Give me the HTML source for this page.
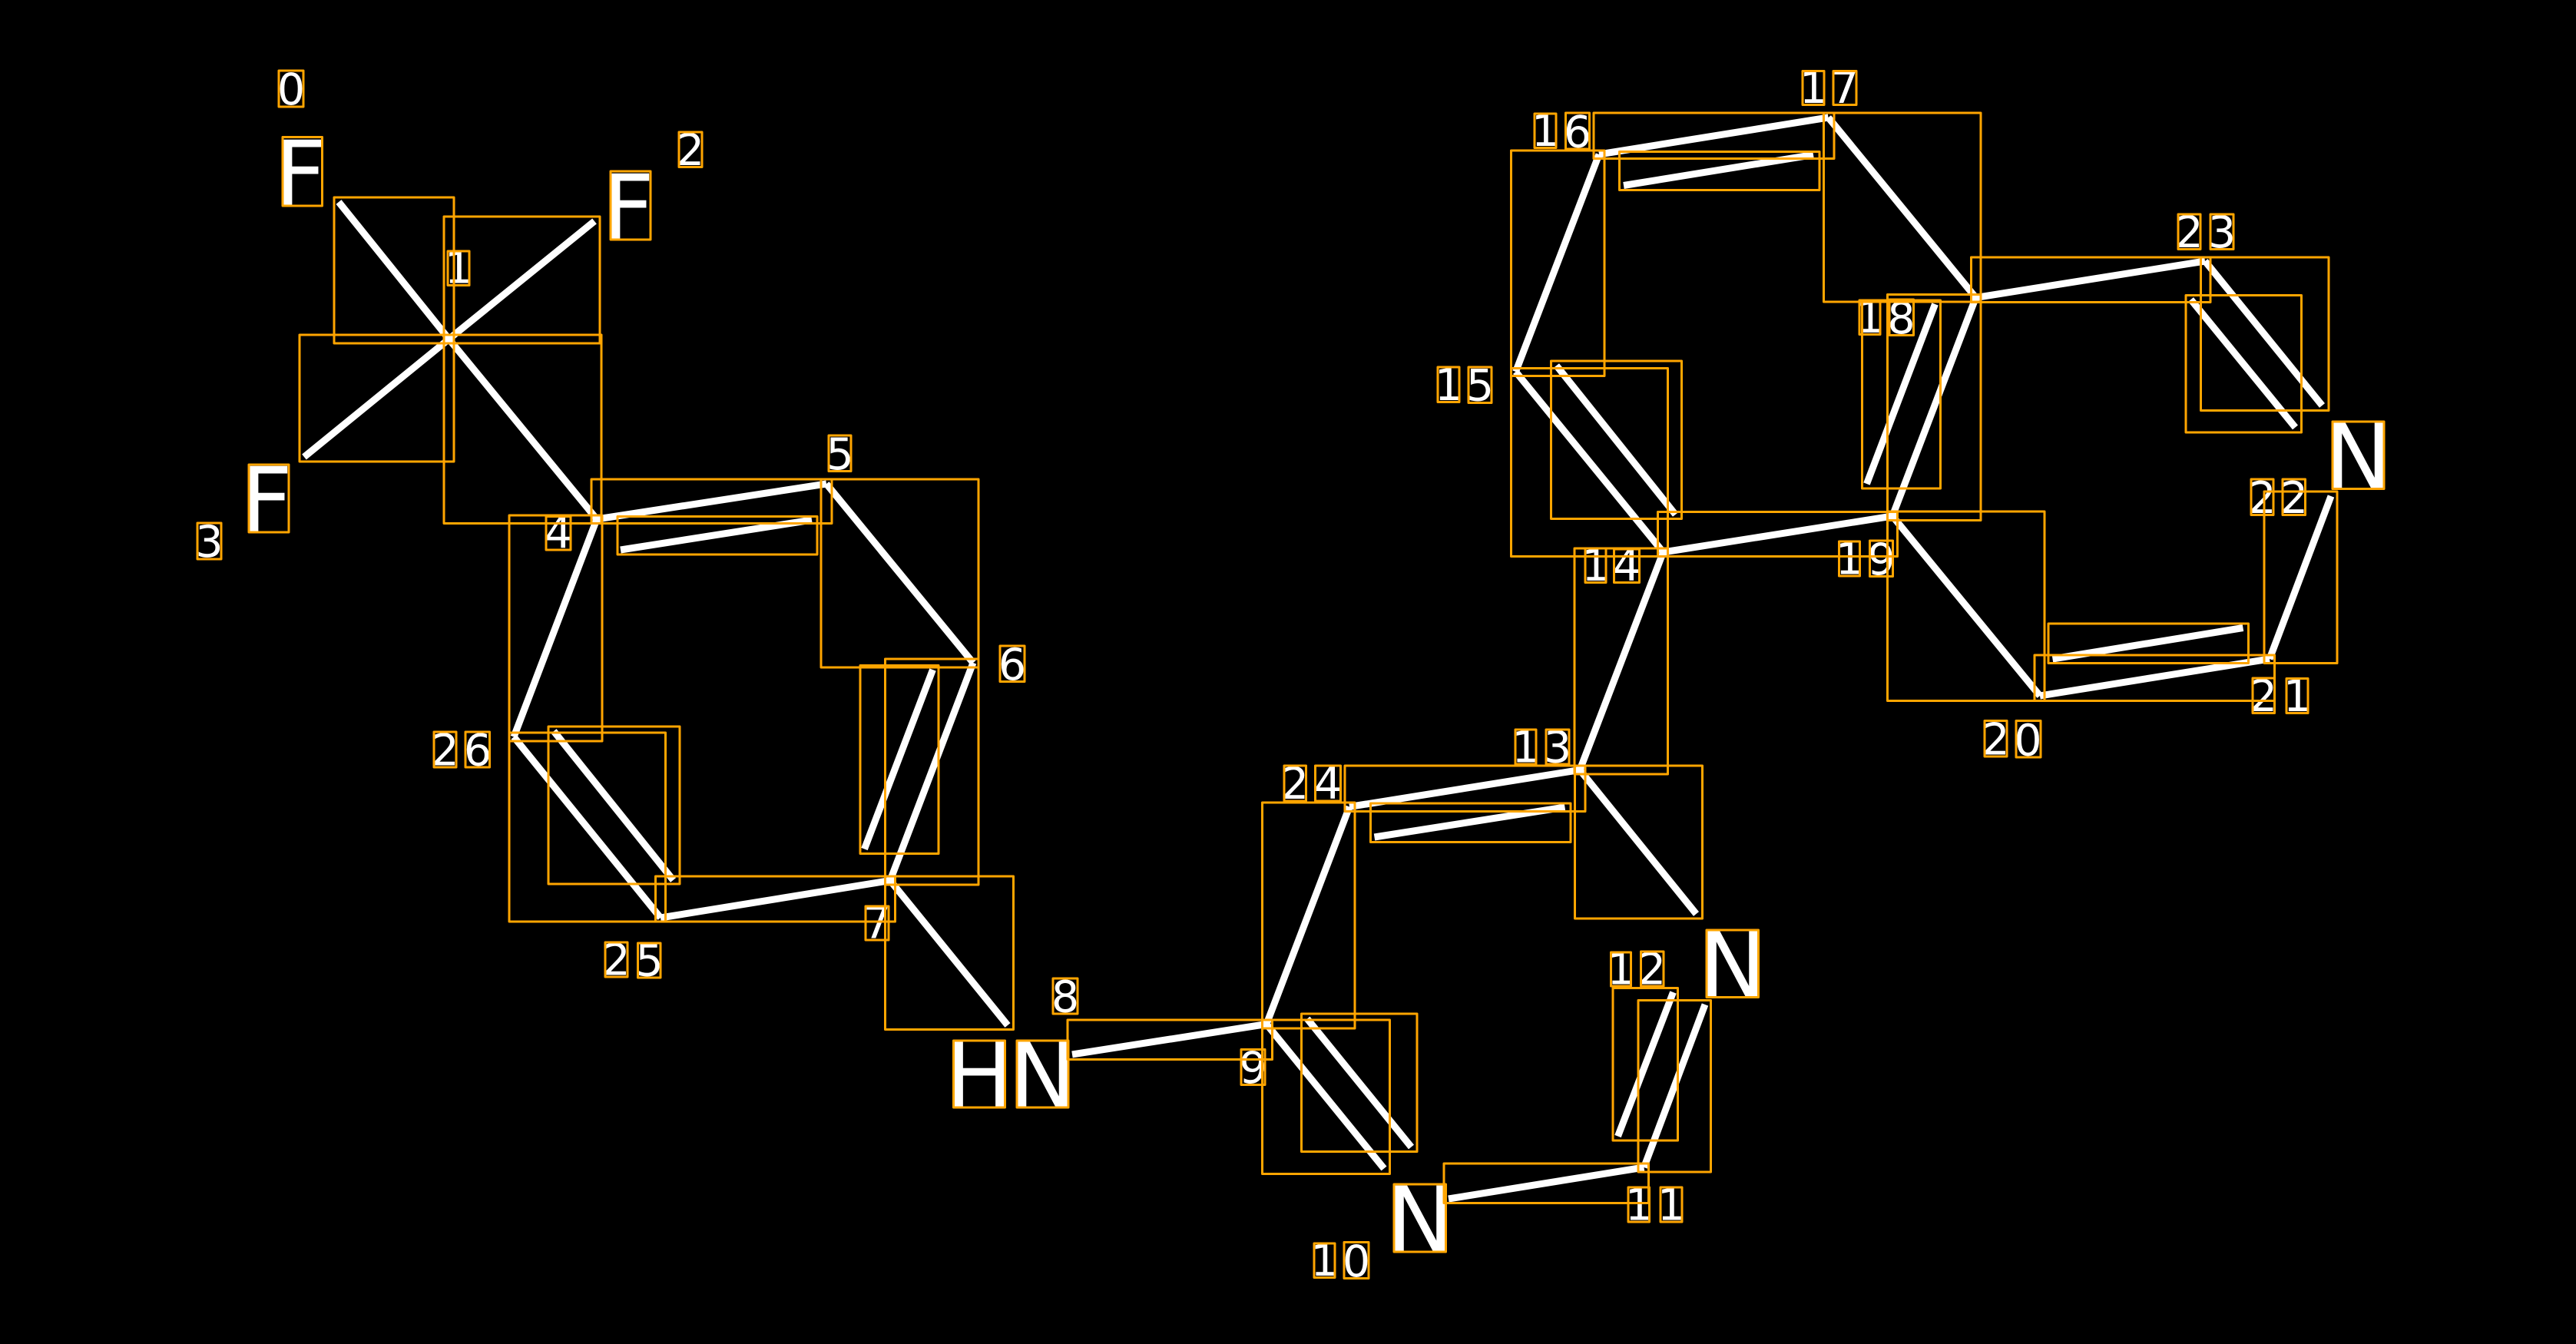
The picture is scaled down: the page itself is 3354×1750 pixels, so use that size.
<!DOCTYPE html>
<html>
<head>
<meta charset="utf-8">
<style>
html,body{margin:0;padding:0;background:#000;width:3354px;height:1750px;overflow:hidden}
svg{display:block}
.b{stroke:#fff;stroke-width:9;fill:none}
.r{stroke:#FFA500;stroke-width:3;fill:none;stroke-linejoin:round}
text{fill:#fff;font-family:"DejaVu Sans","Liberation Sans",sans-serif;text-anchor:middle}
.d text{font-size:57px}
.a text{font-size:118px}
</style>
</head>
<body>
<svg width="3354" height="1750" viewBox="0 0 3354 1750" xmlns="http://www.w3.org/2000/svg">
<rect width="3354" height="1750" fill="#000"/>
<path class="b" d="M441 263L584.5 441.5M774 288L584.5 441.5M396 595L584.5 441.5M584.5 441.5L777 676M777 676L1076 630M808 716L1057 677M1076 630L1267 863M1267 863L1159 1146.5M1214.5 872L1125.5 1105.5M1159 1146.5L860 1195M860 1195L669 959.5M721 952L876.5 1146M669 959.5L777 676M1159 1146.5L1312 1335M1396 1373L1649 1333.5M1649 1333.5L1757 1050.5M1649 1333.5L1802 1521.5M1702 1326.5L1837.5 1493.5M1886 1561L2140.5 1520M2140.5 1520L2220 1308M2178.5 1292L2106.5 1479.5M2208.5 1190L2057 1002.5M2057 1002.5L1757 1050.5M1789.5 1090L2037.5 1051M2057 1002.5L2165.5 719M2165.5 719L1973.5 484M2026.5 476L2181.5 670M1973.5 484L2082 201M2082 201L2380.5 153M2114 241.5L2361 201.5M2380.5 153L2572.5 387.5M2572.5 387.5L2464 672M2519.5 396L2430.5 630M2464 672L2165.5 719M2572.5 387.5L2871 340M2871 340L3023.5 528M2852.5 390L2988.5 556.5M3035 646L2955 858M2955 858L2656 906M2672.5 858L2920.5 817.5M2656 906L2464 672"/>
<g class="d" transform="translate(0,-1)">
<text x="379" y="137">0</text><text x="597" y="369.5">1</text><text x="899" y="216">2</text><text x="272.5" y="726">3</text><text x="727" y="714.5">4</text><text x="1093.5" y="612">5</text><text x="1318" y="886">6</text><text x="1142" y="1222.5">7</text><text x="1387" y="1318.5">8</text><text x="1631.5" y="1411">9</text>
<text x="1724.5" y="1662">1</text><text x="1766" y="1663">0</text><text x="2134" y="1589.5">1</text><text x="2176" y="1589.5">1</text><text x="2110.5" y="1282.5">1</text><text x="2151" y="1282.5">2</text><text x="1986.5" y="993.5">1</text><text x="2028" y="993.5">3</text><text x="2077.5" y="757">1</text><text x="2118" y="757">4</text>
<text x="1886" y="522">1</text><text x="1927" y="522.5">5</text><text x="2012" y="191">1</text><text x="2054" y="192.5">6</text><text x="2361" y="135">1</text><text x="2402" y="135">7</text><text x="2434.5" y="434">1</text><text x="2475.5" y="435">8</text><text x="2408" y="748.5">1</text><text x="2449.5" y="749">9</text>
<text x="2598.5" y="983.5">2</text><text x="2640.5" y="984.5">0</text><text x="2947" y="927">2</text><text x="2991" y="927">1</text><text x="2945.5" y="669">2</text><text x="2987" y="669">2</text><text x="2850.5" y="323">2</text><text x="2893" y="323">3</text><text x="1686" y="1041">2</text><text x="1729" y="1041">4</text>
<text x="802.5" y="1270.5">2</text><text x="845.5" y="1271.5">5</text><text x="579.5" y="997.5">2</text><text x="622" y="997.5">6</text>
</g>
<g class="a" transform="translate(0,1)">
<text x="391" y="266.5">F</text><text x="818" y="310.5">F</text><text x="347" y="691.5">F</text><text x="1275" y="1440.5">H</text><text x="1357.5" y="1440.5">N</text><text x="1849" y="1628.5">N</text><text x="2256" y="1297">N</text><text x="3070.5" y="635">N</text>
</g>
<path class="r" d="M435 257H591V447H435ZM578 282H781V447H578ZM390 436H591V601H390ZM578 436H783V681.5H578ZM770 624H1083V681.5H770ZM804 672.5H1064V722H804ZM1069 624H1274V869H1069ZM1152.5 858H1274V1152H1152.5ZM1120 866.5H1222V1111.5H1120ZM853.5 1141H1165.5V1200H853.5ZM663 954H866.5V1200H663ZM714 946H885V1151H714ZM663 671H784V965H663ZM1152.5 1141H1319.5V1340.5H1152.5ZM1390 1328H1656.5V1379.5H1390ZM1643.5 1045H1764V1339H1643.5ZM1643.5 1328H1809.5V1528.5H1643.5ZM1694.5 1320H1845V1499.5H1694.5ZM1880 1515H2146.5V1566.5H1880ZM2133 1302.5H2227.5V1526H2133ZM2100 1286.5H2184.5V1485H2100ZM2050.5 997H2216.5V1196H2050.5ZM1751 997H2064V1056.5H1751ZM1784.5 1046H2045V1096.5H1784.5ZM2050 714H2171.5V1008H2050ZM1967.5 479.5H2171.5V724.5H1967.5ZM2019.5 470H2189.5V675.5H2019.5ZM1967.5 196H2089V489.5H1967.5ZM2075 147H2388V206.5H2075ZM2108.5 197.5H2369V247.5H2108.5ZM2374.5 147H2579V393H2374.5ZM2457.5 383.5H2579V677.5H2457.5ZM2424.5 391H2526.5V636H2424.5ZM2158.5 666.5H2470.5V724.5H2158.5ZM2566.5 335H2878V393.5H2566.5ZM2865.5 335H3032V534.5H2865.5ZM2846 384.5H2996.5V563H2846ZM2948 640H3043V863.5H2948ZM2667 812H2927.5V863.5H2667ZM2649 853H2961.5V912.5H2649ZM2457.5 666H2662V912.5H2457.5ZM368 178.5H419.5V268H368ZM795 223H847V312H795ZM324 605H376V693H324ZM1241.5 1355H1308.5V1442H1241.5ZM1324 1355H1391V1442H1324ZM1815 1542H1882.5V1630H1815ZM2222 1211H2289.5V1298.5H2222ZM3037 549H3104V636.5H3037ZM363 92H395V139H363ZM583 327H611V371.5H583ZM884 172H914V217.5H884ZM257 681H288V728H257ZM711 672.5H743V716H711ZM1079 567H1108V613.5H1079ZM1302 841H1334V887.5H1302ZM1127 1180H1157V1224H1127ZM1371 1274H1403V1320H1371ZM1616 1366.5H1647V1412.5H1616ZM1711 1619H1738V1663.5H1711ZM1750 1617.5H1782V1664.5H1750ZM2120 1546H2147.5V1591H2120ZM2162 1546H2190V1591H2162ZM2097.5 1240H2123.5V1284H2097.5ZM2136.5 1239H2166V1284H2136.5ZM1973 950H2000V995H1973ZM2013 950H2043V995H2013ZM2064 714H2091V758.5H2064ZM2101.5 715H2134.5V758.5H2101.5ZM1872 478H1900V523.5H1872ZM1912 478H1942V524.5H1912ZM1998 148H2026V192.5H1998ZM2038.5 147H2069.5V194H2038.5ZM2347 92.5H2375V136.5H2347ZM2387 92.5H2417V136.5H2387ZM2421 391H2448V435.5H2421ZM2460 390H2491.5V436.5H2460ZM2394.5 705H2421.5V750H2394.5ZM2434.5 704H2464.5V750.5H2434.5ZM2584 938.5H2613V985H2584ZM2625 938.5H2657V986H2625ZM2933 883H2961.5V928.5H2933ZM2977 883.5H3005V928.5H2977ZM2931 624H2960V670.5H2931ZM2972 624H3001.5V670.5H2972ZM2836 279H2865V324.5H2836ZM2878 279H2908V324.5H2878ZM1672 997H1700.5V1043H1672ZM1712.5 997H1745.5V1043H1712.5ZM788 1227H817V1272H788ZM830.5 1228H860V1273H830.5ZM565 953H594V999H565ZM606 953H637.5V999H606Z"/>
</svg>
</body>
</html>
